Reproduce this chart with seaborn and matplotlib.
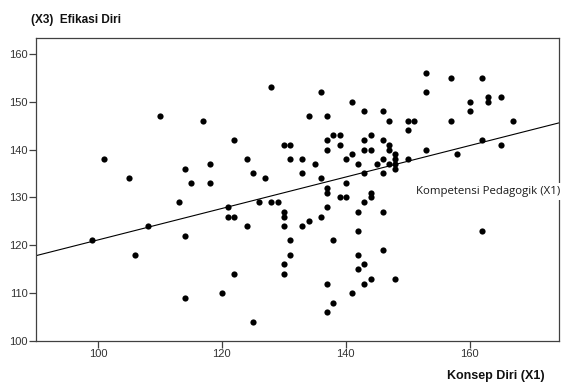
import matplotlib
matplotlib.use("Agg")
import matplotlib.pyplot as plt
import seaborn as sns
import pandas as pd

# Konsep Diri (X1) vs Efikasi Diri (X3)
konsep_diri = [101, 105, 113, 114, 115, 108, 99, 114, 106, 114, 110,
               128, 136, 141, 143, 117, 134, 137, 138, 139, 144, 122, 137, 143, 130, 131,
               137, 139, 143, 144, 124, 131, 133, 140, 141, 135, 142, 145, 118, 125, 127,
               133, 143, 136, 118, 137, 140,
               137, 144, 144, 139, 140, 121, 126, 128, 129, 130, 130, 121, 122, 137, 143,
               142, 124, 130, 133, 134, 136, 131, 138, 142, 131, 142, 130, 143, 122, 130,
               142, 144, 143, 137, 120, 141, 138, 137, 125,
               153, 157, 162, 153, 160, 163, 163, 165, 160, 146, 147, 150, 151, 157, 167,
               150, 146, 162, 147, 165, 147, 153, 148, 158, 148, 150, 146, 147, 148, 148,
               146, 146, 162, 146, 148]
efikasi_diri = [138, 134, 129, 136, 133, 124, 121, 122, 118, 109, 147,
                153, 152, 150, 148, 146, 147, 147, 143, 143, 143, 142, 142, 142, 141, 141,
                140, 141, 140, 140, 138, 138, 138, 138, 139, 137, 137, 137, 137, 135, 134,
                135, 135, 134, 133, 132, 133,
                131, 131, 130, 130, 130, 128, 129, 129, 129, 127, 126, 126, 126, 128, 129,
                127, 124, 124, 124, 125, 126, 121, 121, 123, 118, 118, 116, 116, 114, 114,
                115, 113, 112, 112, 110, 110, 108, 106, 104,
                156, 155, 155, 152, 150, 151, 150, 151, 148, 148, 146, 146, 146, 146, 146,
                144, 142, 142, 141, 141, 140, 140, 139, 139, 138, 138, 138, 137, 137, 136,
                135, 127, 123, 119, 113]

x_ticks = [100, 120, 140, 160]
y_ticks = [100, 110, 120, 130, 140, 150, 160]

df = pd.DataFrame({"x1": konsep_diri, "x3": efikasi_diri})

sns.set_style("ticks")
plt.rcParams["font.family"] = ["Liberation Sans", "DejaVu Sans"]

fig = plt.figure(figsize=(5.65, 3.83), dpi=100)
ax = fig.add_axes([0.0637, 0.1097, 0.9257, 0.7911])
# limits first so the fit line spans the whole frame
ax.set_xlim(90, 174.4)
ax.set_ylim(100, 163.3)

sns.regplot(data=df, x="x1", y="x3", ax=ax, ci=None, truncate=False,
            scatter_kws={"s": 20, "color": "black", "linewidths": 0, "alpha": 1},
            line_kws={"color": "black", "linewidth": 0.8})

ax.set_xlim(90, 174.4)
ax.set_ylim(100, 163.3)
ax.set_xticks(x_ticks)
ax.set_yticks(y_ticks)
ax.set_xlabel("")
ax.set_ylabel("")
for side in ["left", "bottom", "top", "right"]:
    ax.spines[side].set_visible(True)
    ax.spines[side].set_color("#404040")
    ax.spines[side].set_linewidth(0.9)
ax.tick_params(axis="both", length=5, width=0.9, color="#404040",
               labelsize=8, labelcolor="#333333", pad=1)

lbl = ax.text(151.4, 131.2, "Kompetensi Pedagogik (X1)", fontsize=8.2,
              family=["Open Sans", "DejaVu Sans"], color="#1a1a1a",
              ha="left", va="center", zorder=5, clip_on=False,
              bbox=dict(facecolor="white", edgecolor="none", pad=2))

fig.text(0.055, 0.948, "(X3)  Efikasi Diri", fontsize=8.5, fontweight="bold",
         ha="left", va="center", color="#111111")
fig.text(0.9646, 0.0183, "Konsep Diri (X1)", fontsize=9, fontweight="bold",
         ha="right", va="center", color="#111111")

fig.savefig("out.png", dpi=100)
